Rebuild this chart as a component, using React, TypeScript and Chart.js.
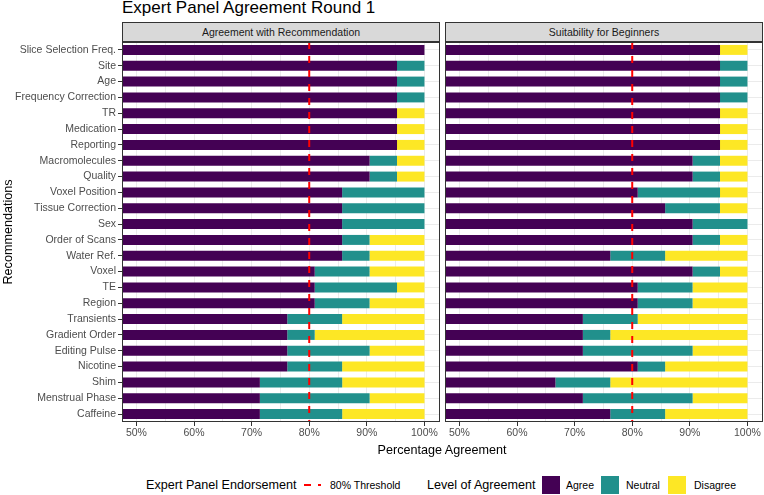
import React, { useEffect, useRef } from 'react';
import { Chart, registerables } from 'chart.js';

Chart.register(...registerables);

const categories = [
  'Slice Selection Freq.', 'Site', 'Age', 'Frequency Correction', 'TR', 'Medication',
  'Reporting', 'Macromolecules', 'Quality', 'Voxel Position', 'Tissue Correction', 'Sex',
  'Order of Scans', 'Water Ref.', 'Voxel', 'TE', 'Region', 'Transients', 'Gradient Order',
  'Editing Pulse', 'Nicotine', 'Shim', 'Menstrual Phase', 'Caffeine',
];

// Panel 1: Agreement with Recommendation (percent)
const agreeRec = [100, 95.24, 95.24, 95.24, 95.24, 95.24, 95.24, 90.48, 90.48, 85.71, 85.71, 85.71, 85.71, 85.71, 80.95, 80.95, 80.95, 76.19, 76.19, 76.19, 76.19, 71.43, 71.43, 71.43];
const neutralRec = [0, 4.76, 4.76, 4.76, 0, 0, 0, 4.76, 4.76, 14.29, 14.29, 14.29, 4.76, 4.76, 9.52, 14.29, 9.52, 9.52, 4.76, 14.29, 9.52, 14.29, 19.05, 14.29];
const disagreeRec = [0, 0, 0, 0, 4.76, 4.76, 4.76, 4.76, 4.76, 0, 0, 0, 9.52, 9.52, 9.52, 4.76, 9.52, 14.29, 19.05, 9.52, 14.29, 14.29, 9.52, 14.29];

// Panel 2: Suitability for Beginners (percent)
const agreeBeg = [95.24, 95.24, 95.24, 95.24, 95.24, 95.24, 95.24, 90.48, 90.48, 80.95, 85.71, 90.48, 90.48, 76.19, 90.48, 80.95, 80.95, 71.43, 71.43, 71.43, 80.95, 66.67, 71.43, 76.19];
const neutralBeg = [0, 4.76, 4.76, 4.76, 0, 0, 0, 4.76, 4.76, 14.29, 9.52, 9.52, 4.76, 9.52, 4.76, 9.52, 9.52, 9.52, 4.76, 19.05, 4.76, 9.52, 19.05, 9.52];
const disagreeBeg = [4.76, 0, 0, 0, 4.76, 4.76, 4.76, 4.76, 4.76, 4.76, 4.76, 0, 4.76, 14.29, 4.76, 9.52, 9.52, 19.05, 23.81, 9.52, 14.29, 23.81, 9.52, 14.29];

const xTickValues = [50, 55, 60, 65, 70, 75, 80, 85, 90, 95, 100];
const thresholdValue = 80;
const xMin = 47.5;
const xMax = 102.7;

const COLORS = { agree: '#440154', neutral: '#21908C', disagree: '#FDE725' };
const FONT = "'Liberation Sans', Arial, Helvetica, sans-serif";

const panelPlugin = {
  id: 'panelDecor',
  afterDatasetsDraw(chart: any) {
    const { ctx, chartArea: a, scales } = chart;
    const x = scales.x.getPixelForValue(thresholdValue);
    ctx.save();
    ctx.beginPath();
    ctx.rect(a.left, a.top, a.right - a.left, a.bottom - a.top);
    ctx.clip();
    ctx.strokeStyle = '#FF0000';
    ctx.lineWidth = 2;
    ctx.setLineDash([7, 7]);
    ctx.beginPath();
    ctx.moveTo(x, a.top);
    ctx.lineTo(x, a.bottom);
    ctx.stroke();
    ctx.restore();
    ctx.save();
    ctx.strokeStyle = '#333333';
    ctx.lineWidth = 1;
    ctx.strokeRect(a.left + 0.5, a.top + 0.5, a.right - a.left - 1, a.bottom - a.top - 1);
    ctx.restore();
  },
};

function makeConfig(agree: number[], neutral: number[], disagree: number[], showLabels: boolean): any {
  const ds = (label: string, data: number[], color: string) => ({
    label,
    data,
    backgroundColor: color,
    borderWidth: 0,
    barPercentage: 0.63,
    categoryPercentage: 1,
    clip: 0,
  });
  return {
    type: 'bar',
    data: {
      labels: categories,
      datasets: [
        ds('Agree', agree, COLORS.agree),
        ds('Neutral', neutral, COLORS.neutral),
        ds('Disagree', disagree, COLORS.disagree),
      ],
    },
    options: {
      indexAxis: 'y',
      animation: false,
      responsive: false,
      layout: { padding: 0 },
      plugins: { legend: { display: false }, tooltip: { enabled: false }, title: { display: false } },
      scales: {
        x: {
          type: 'linear',
          stacked: true,
          min: xMin,
          max: xMax,
          afterBuildTicks: (s: any) => {
            s.ticks = xTickValues.map((v) => ({ value: v }));
          },
          afterFit: (s: any) => {
            s.height = 24;
            s.paddingLeft = 0;
            s.paddingRight = 0;
            s.paddingTop = 0;
            s.paddingBottom = 0;
          },
          grid: {
            color: '#EBEBEB',
            lineWidth: 1,
            tickLength: 4,
            tickColor: (c: any) => (c.tick && c.tick.value % 10 === 0 ? '#333333' : 'rgba(0,0,0,0)'),
          },
          border: { display: false },
          ticks: {
            color: '#4D4D4D',
            font: { family: FONT, size: 10.5 },
            padding: 1,
            maxRotation: 0,
            autoSkip: false,
            callback: (v: any) => (Number(v) % 10 === 0 ? v + '%' : ''),
          },
        },
        y: {
          type: 'category',
          stacked: true,
          offset: true,
          afterFit: (s: any) => {
            s.width = showLabels ? 122 : 0;
            s.paddingTop = 0;
            s.paddingBottom = 0;
            s.paddingLeft = 0;
            s.paddingRight = 0;
          },
          grid: {
            color: '#EBEBEB',
            offset: false,
            tickLength: 4,
            tickColor: '#333333',
            drawTicks: showLabels,
          },
          border: { display: false },
          ticks: {
            display: showLabels,
            color: '#4D4D4D',
            font: { family: FONT, size: 10.5 },
            padding: 2,
            autoSkip: false,
          },
        },
      },
    },
    plugins: [panelPlugin],
  };
}

function Panel(props: { left: number; width: number; agree: number[]; neutral: number[]; disagree: number[]; showLabels: boolean }) {
  const ref = useRef<HTMLCanvasElement | null>(null);
  useEffect(() => {
    if (!ref.current) return;
    const chart = new Chart(ref.current, makeConfig(props.agree, props.neutral, props.disagree, props.showLabels));
    return () => chart.destroy();
  }, []);
  return (
    <canvas
      ref={ref}
      width={props.width}
      height={404}
      style={{ position: 'absolute', left: props.left, top: 42, width: props.width, height: 404, display: 'block' }}
    />
  );
}

const stripStyle = (left: number): React.CSSProperties => ({
  position: 'absolute',
  left,
  top: 22,
  width: 318,
  height: 20,
  boxSizing: 'border-box',
  border: '1px solid #333333',
  background: '#D9D9D9',
  color: '#1A1A1A',
  fontFamily: FONT,
  fontSize: 10.5,
  lineHeight: '18px',
  textAlign: 'center',
});

const legendText = (left: number, size: number): React.CSSProperties => ({
  position: 'absolute',
  left,
  top: 476,
  height: 18,
  lineHeight: '18px',
  fontFamily: FONT,
  fontSize: size,
  color: '#000000',
  whiteSpace: 'nowrap',
});

const legendBox = (left: number, color: string): React.CSSProperties => ({
  position: 'absolute',
  left,
  top: 476,
  width: 18,
  height: 18,
  background: color,
});

export default function App() {
  return (
    <div style={{ position: 'fixed', left: 0, top: 0, width: 764, height: 495, background: '#FFFFFF', overflow: 'hidden' }}>
      <div style={{ position: 'absolute', left: 122, top: -1, fontFamily: FONT, fontSize: 17, lineHeight: '17px', color: '#000000', whiteSpace: 'nowrap' }}>
        Expert Panel Agreement Round 1
      </div>
      <div style={stripStyle(122)}>Agreement with Recommendation</div>
      <div style={stripStyle(445)}>Suitability for Beginners</div>
      <Panel left={0} width={440} agree={agreeRec} neutral={neutralRec} disagree={disagreeRec} showLabels={true} />
      <Panel left={445} width={318} agree={agreeBeg} neutral={neutralBeg} disagree={disagreeBeg} showLabels={false} />
      <div
        style={{
          position: 'absolute', left: 8 - 150, top: 232 - 8, width: 300, height: 16, lineHeight: '16px',
          textAlign: 'center', transform: 'rotate(-90deg)', fontFamily: FONT, fontSize: 12.6, color: '#000000',
        }}
      >
        Recommendations
      </div>
      <div
        style={{
          position: 'absolute', left: 142, top: 442, width: 600, height: 16, lineHeight: '16px',
          textAlign: 'center', fontFamily: FONT, fontSize: 12.6, color: '#000000',
        }}
      >
        Percentage Agreement
      </div>
      <div style={legendText(146, 12.6)}>Expert Panel Endorsement</div>
      <svg style={{ position: 'absolute', left: 302, top: 476 }} width={20} height={18}>
        <line x1={2} y1={9} x2={19} y2={9} stroke="#FF0000" strokeWidth={2} strokeDasharray="7 7" />
      </svg>
      <div style={legendText(330, 10.5)}>80% Threshold</div>
      <div style={legendText(427, 12.6)}>Level of Agreement</div>
      <div style={legendBox(542, COLORS.agree)} />
      <div style={legendText(566, 10.5)}>Agree</div>
      <div style={legendBox(601, COLORS.neutral)} />
      <div style={legendText(626, 10.5)}>Neutral</div>
      <div style={legendBox(668, COLORS.disagree)} />
      <div style={legendText(694, 10.5)}>Disagree</div>
    </div>
  );
}
